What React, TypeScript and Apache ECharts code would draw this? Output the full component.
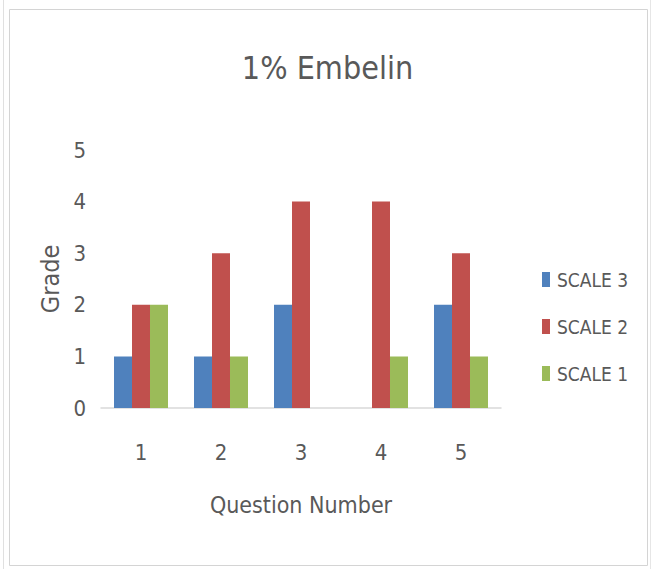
import React, { useEffect, useRef } from "react";
import * as echarts from "echarts";

// Question numbers on the category axis
const questions = ["1", "2", "3", "4", "5"];

// Grades per question for each scale
const scale3 = [1, 1, 2, 0, 2];
const scale2 = [2, 3, 4, 4, 3];
const scale1 = [2, 1, 0, 1, 1];

const seriesNames = ["SCALE 3", "SCALE 2", "SCALE 1"];
const seriesColors = ["#4F81BD", "#C0504D", "#9BBB59"];

const TEXT = "#595959";
const NARROW = "'Liberation Sans Narrow', 'DejaVu Sans Condensed', 'Liberation Sans', sans-serif";
const REGULAR = "'Liberation Sans', 'DejaVu Sans', sans-serif";

export default function App() {
  const ref = useRef<HTMLDivElement>(null);

  useEffect(() => {
    if (!ref.current) return;
    const chart = echarts.init(ref.current, undefined, { renderer: "svg" });
    const values = [scale3, scale2, scale1];

    chart.setOption({
      animation: false,
      backgroundColor: "#ffffff",
      title: {
        text: "1% Embelin",
        left: "center",
        top: 47,
        textStyle: {
          fontFamily: NARROW,
          fontSize: 32,
          fontWeight: "normal",
          color: TEXT,
        },
      },
      legend: {
        orient: "vertical",
        left: 537,
        top: 265,
        itemGap: 28,
        itemWidth: 8,
        itemHeight: 15,
        icon: "rect",
        data: seriesNames,
        textStyle: { fontFamily: NARROW, fontSize: 19, color: TEXT, padding: [0, 0, 0, 2] },
      },
      grid: { left: 101, right: 154, top: 150, bottom: 161 },
      xAxis: {
        type: "category",
        data: questions,
        name: "Question Number",
        nameLocation: "middle",
        nameGap: 85,
        nameTextStyle: { fontFamily: NARROW, fontSize: 23, color: TEXT },
        axisLine: { show: true, lineStyle: { color: "#d9d9d9", width: 1.5 } },
        axisTick: { show: false },
        axisLabel: { fontFamily: NARROW, fontSize: 22, color: TEXT, margin: 33 },
      },
      yAxis: {
        type: "value",
        min: 0,
        max: 5,
        interval: 1,
        name: "Grade",
        nameLocation: "middle",
        nameGap: 23,
        nameTextStyle: { fontFamily: NARROW, fontSize: 25, color: TEXT },
        axisLine: { show: false },
        axisTick: { show: false },
        splitLine: { show: false },
        axisLabel: { fontFamily: NARROW, fontSize: 22, color: TEXT, margin: 15 },
      },
      series: seriesNames.map((name, i) => ({
        name,
        type: "bar",
        data: values[i],
        barWidth: 18,
        barGap: "0%",
        itemStyle: { color: seriesColors[i] },
      })),
      graphic: [
        {
          type: "rect",
          silent: true,
          shape: { x: 9.5, y: 9.5, width: 638, height: 556 },
          style: { fill: "none", stroke: "#d4d4d4", lineWidth: 1 },
        },
        {
          type: "line",
          silent: true,
          shape: { x1: 3.5, y1: 0, x2: 3.5, y2: 569 },
          style: { stroke: "#e0e0e0", lineWidth: 1 },
        },
        {
          type: "line",
          silent: true,
          shape: { x1: 650.5, y1: 0, x2: 650.5, y2: 569 },
          style: { stroke: "#e6e6e6", lineWidth: 1 },
        },
      ],
    });

    return () => chart.dispose();
  }, []);

  return (
    <div
      ref={ref}
      style={{ position: "absolute", left: 0, top: 0, width: 655, height: 569 }}
    />
  );
}
